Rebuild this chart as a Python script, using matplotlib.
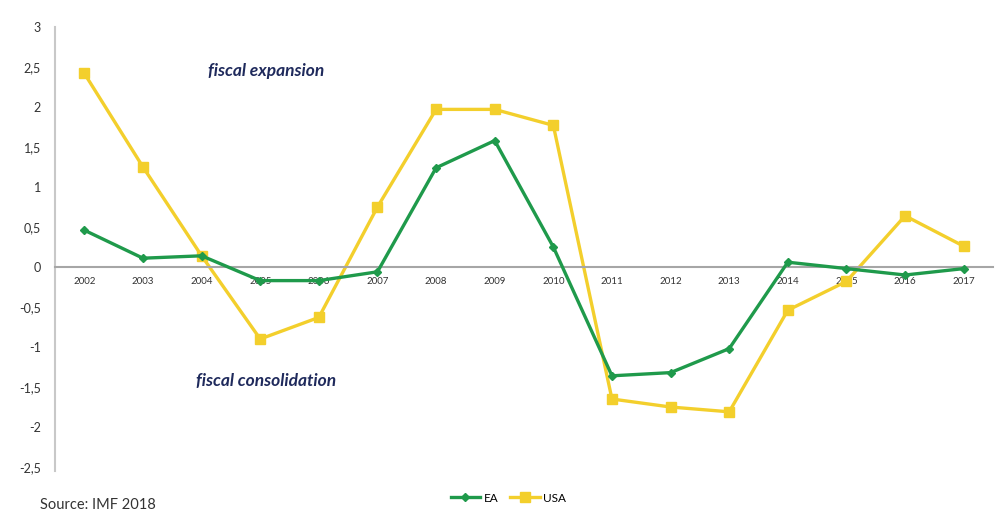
import matplotlib.pyplot as plt
import numpy as np

plt.rcParams['font.family'] = ['Lato', 'DejaVu Sans']

# data
years = ['2002', '2003', '2004', '2005', '2006', '2007', '2008', '2009',
         '2010', '2011', '2012', '2013', '2014', '2015', '2016', '2017']
ea = [0.46, 0.11, 0.14, -0.17, -0.17, -0.06, 1.24, 1.58,
      0.25, -1.36, -1.32, -1.02, 0.06, -0.02, -0.10, -0.02]
usa = [2.42, 1.25, 0.14, -0.90, -0.63, 0.75, 1.97, 1.97,
       1.77, -1.65, -1.75, -1.81, -0.54, -0.18, 0.64, 0.26]

green = '#1f9a4b'
yellow = '#f3cf2c'

fig = plt.figure(figsize=(9.97, 5.15), dpi=100)
ax = fig.add_axes([0.0552, 0.0854, 0.9408, 0.8622])

# axis line at zero first (set_position resets the ticks)
ax.spines['bottom'].set_position(('data', 0))
ax.spines['bottom'].set_color('#a6a6a6')
ax.spines['bottom'].set_linewidth(1.5)
ax.spines['left'].set_color('#c8c8c8')
ax.spines['left'].set_linewidth(1.5)
ax.spines['top'].set_visible(False)
ax.spines['right'].set_visible(False)

x = np.arange(len(years))
ax.plot(x, ea, color=green, lw=2.4, marker='D', ms=4.5, label='EA', zorder=3)
ax.plot(x, usa, color=yellow, lw=2.4, marker='s', ms=7, label='USA', zorder=2)

ax.set_xlim(-0.5, 15.5)
ax.set_ylim(-2.55, 3)
ax.set_yticks(np.arange(-2.5, 3.01, 0.5))
ax.set_yticklabels([('%g' % v).replace('.', ',') for v in np.arange(-2.5, 3.01, 0.5)])
ax.set_xticks(x)
ax.set_xticklabels(years)
ax.tick_params(axis='both', length=0, labelcolor='#333333')
ax.tick_params(axis='y', pad=10, labelsize=9)
ax.tick_params(axis='x', pad=7, labelsize=7)

ax.text(3.1, 2.45, 'fiscal expansion', style='italic', fontweight='bold',
        fontsize=12.5, color='#1f2a5c', ha='center', va='center')
ax.text(3.1, -1.42, 'fiscal consolidation', style='italic', fontweight='bold',
        fontsize=12.5, color='#1f2a5c', ha='center', va='center')

fig.legend(loc='center', bbox_to_anchor=(0.51, 0.033), ncol=2, frameon=False,
           fontsize=8.5, handlelength=2.5, columnspacing=1.0, handletextpad=0.3)
fig.text(0.04, 0.012, 'Source: IMF 2018', fontsize=10.5, color='#333333')

plt.savefig('out.png', dpi=100)
plt.close()
